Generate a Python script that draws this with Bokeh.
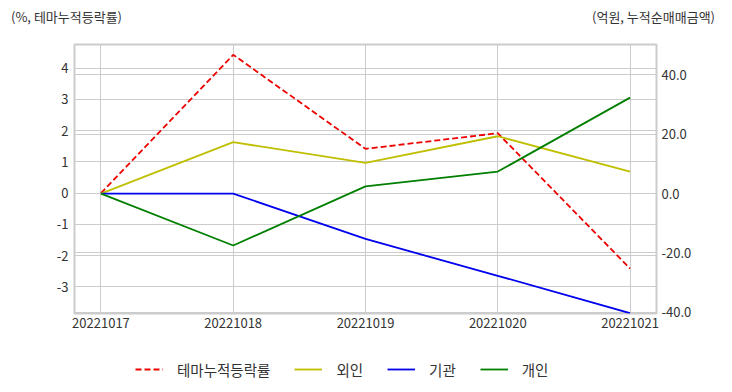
from bokeh.plotting import figure
from bokeh.layouts import column
from bokeh.models import (Range1d, LinearAxis, FixedTicker, Grid, Legend, LegendItem,
                          Div, NumeralTickFormatter)
from bokeh.embed import file_html
from bokeh.resources import INLINE

dates = ["20221017", "20221018", "20221019", "20221020", "20221021"]
theme = [0, 4.43, 1.42, 1.92, -2.41]
foreign = [0, 17.3, 10.3, 19.3, 7.4]
institution = [0, 0, -15.3, -27.7, -40.3]
individual = [0, -17.5, 2.4, 7.4, 32.3]
left_ticks = [-3, -2, -1, 0, 1, 2, 3, 4]
right_ticks = [-40, -20, 0, 20, 40]
labels = ["테마누적등락률", "외인", "기관", "개인"]
left_unit = "(%, 테마누적등락률)"
right_unit = "(억원, 누적순매매금액)"

FONT = "Noto Sans CJK KR"
W = 716
HEAD_H = 30
MAIN_H = 316
FOOT_H = 392 - HEAD_H - MAIN_H
xs = list(range(len(dates)))
styles = [dict(line_color="#ee0000", line_width=1.8, line_dash="6 3"),
          dict(line_color="#bfbf00", line_width=1.8),
          dict(line_color="#0000ee", line_width=1.8),
          dict(line_color="#007f00", line_width=1.8)]

# header strip with the two unit captions
span = "position:absolute;top:10px;line-height:14px;white-space:nowrap;"
head = Div(width=W, height=HEAD_H, margin=0, text=(
    f'<div style="position:relative;width:{W}px;height:{HEAD_H}px;'
    f"font-family:'{FONT}';font-size:13px;color:#333333;\">"
    f'<span style="{span}left:11px;">{left_unit}</span>'
    f'<span style="{span}right:1px;">{right_unit}</span></div>'))

p = figure(width=W, height=MAIN_H, output_backend="svg", toolbar_location=None,
           x_range=Range1d(-0.2, 4.2), y_range=Range1d(-3.85, 4.76),
           min_border_left=74, min_border_right=60, min_border_top=44 - HEAD_H,
           min_border_bottom=MAIN_H - (44 - HEAD_H) - 269)
p.extra_y_ranges = {"right": Range1d(-40.4, 50.2)}

p.outline_line_color = "#cccccc"
p.outline_line_width = 2
p.background_fill_color = "white"
p.border_fill_color = "white"

p.xaxis.ticker = FixedTicker(ticks=xs)
p.xaxis.major_label_overrides = {i: d for i, d in enumerate(dates)}
p.yaxis.ticker = FixedTicker(ticks=left_ticks)
p.yaxis.formatter = NumeralTickFormatter(format="0")
right_axis = LinearAxis(y_range_name="right", ticker=FixedTicker(ticks=right_ticks),
                        formatter=NumeralTickFormatter(format="0.0"))
p.add_layout(right_axis, "right")

for ax in [p.xaxis[0], p.yaxis[0], right_axis]:
    ax.axis_line_color = None
    ax.major_tick_line_color = None
    ax.minor_tick_line_color = None
    ax.major_tick_out = 0
    ax.major_label_text_font = FONT
    ax.major_label_text_font_size = "13px"
    ax.major_label_text_color = "#333333"
p.xaxis.major_label_standoff = 4
p.yaxis.major_label_standoff = 6
right_axis.major_label_standoff = 5

p.grid.grid_line_color = "#cccccc"
p.grid.grid_line_width = 1
rgrid = Grid(dimension=1, ticker=right_axis.ticker, y_range_name="right",
             grid_line_color="#cccccc", grid_line_width=1)
p.add_layout(rgrid)

p.line(xs, theme, **styles[0])
p.line(xs, foreign, y_range_name="right", **styles[1])
p.line(xs, institution, y_range_name="right", **styles[2])
p.line(xs, individual, y_range_name="right", **styles[3])

# footer strip holding the legend (legend keys only, no drawn data)
nan = float("nan")
foot = figure(width=W, height=FOOT_H, output_backend="svg", toolbar_location=None,
              x_range=Range1d(0, W), y_range=Range1d(0, FOOT_H),
              x_axis_type=None, y_axis_type=None, min_border=0)
foot.outline_line_color = None
keys = [foot.line(x=[nan], y=[nan], **s) for s in styles]
legend = Legend(items=[LegendItem(label=l, renderers=[r]) for l, r in zip(labels, keys)],
                orientation="horizontal", location=(135 - 74, 12),
                glyph_width=28, glyph_height=22, label_height=22, label_standoff=14, spacing=24,
                padding=0, margin=0, background_fill_alpha=0, border_line_color=None,
                label_text_font=FONT, label_text_font_size="14.5px", label_text_color="#333333",
                label_text_baseline="middle")
foot.add_layout(legend, "center")

layout = column(head, p, foot, spacing=0)
open("out.html", "w").write(file_html(layout, INLINE))
